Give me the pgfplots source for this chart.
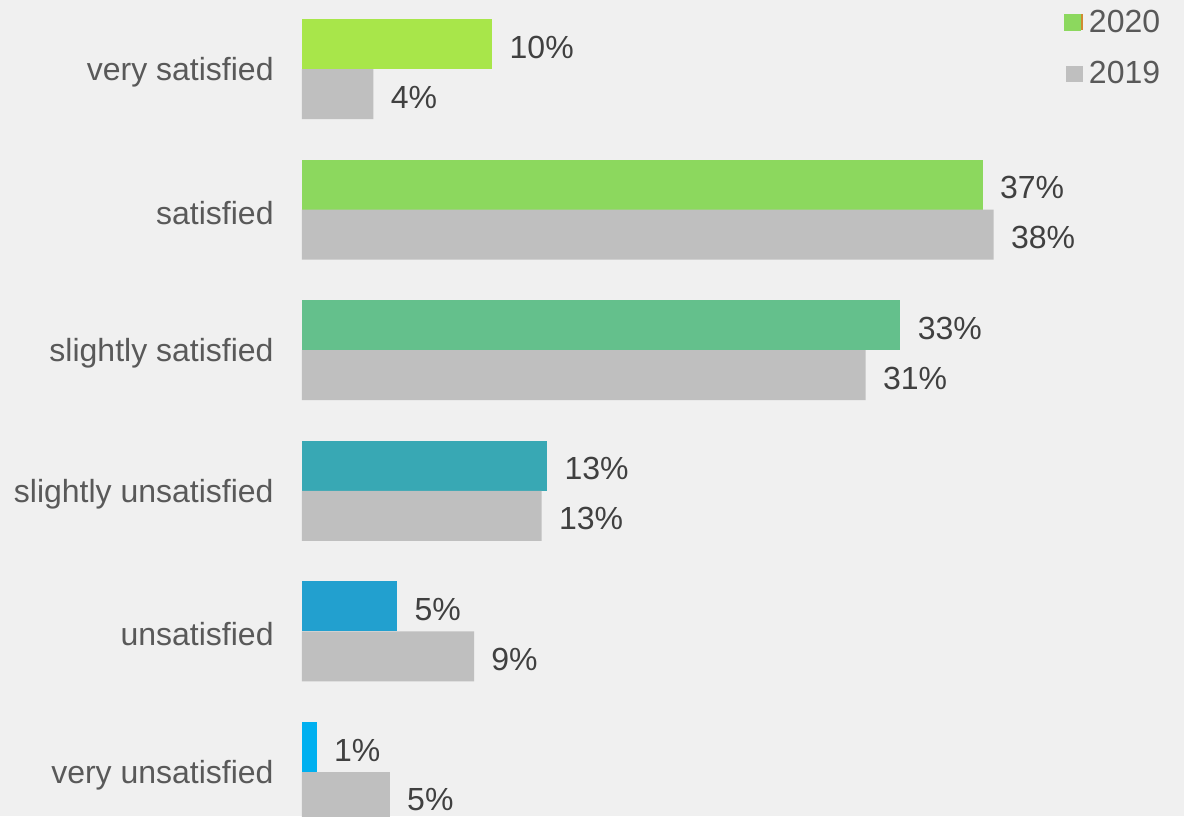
\documentclass[border=0pt]{standalone}
\usepackage{pgfplots}
\pgfplotsset{compat=1.18}
\usepackage{fontspec}
\setmainfont{Liberation Sans}
\definecolor{bg}{HTML}{F0F0F0}
\definecolor{labcol}{HTML}{595959}
\definecolor{valcol}{HTML}{404040}
\definecolor{cA}{HTML}{A8E64A}
\definecolor{cB}{HTML}{8CD85E}
\definecolor{cC}{HTML}{64C08C}
\definecolor{cD}{HTML}{38A8B4}
\definecolor{cE}{HTML}{22A0CF}
\definecolor{cF}{HTML}{00B0F0}
\definecolor{gr}{HTML}{BFBFBF}
\definecolor{legor}{HTML}{D08A30}
\begin{document}
\begin{tikzpicture}
\path[use as bounding box, fill=bg] (-151pt,0pt) rectangle (441pt,408pt);
\begin{axis}[
  at={(0pt,0pt)}, anchor=south west,
  scale only axis, width=441pt, height=408pt,
  xmin=0, xmax=48.2, ymin=-0.4908, ymax=5.3129, y dir=reverse,
  axis line style={draw=none}, xtick=\empty,
  ytick={0,1,2,3,4,5},
  yticklabels={very satisfied, satisfied, slightly satisfied, slightly unsatisfied, unsatisfied, very unsatisfied},
  major tick length=0pt,
  yticklabel style={font=\fontsize{16}{19}\selectfont, text=labcol, inner sep=0pt, xshift=-14pt, yshift=-1.5pt},
  xbar, bar width=0.3556,
  every axis plot/.append style={draw=none},
  nodes near coords, point meta=explicit symbolic,
  every node near coord/.append style={font=\fontsize{16}{19}\selectfont, text=valcol, inner sep=0pt, anchor=west, xshift=8.5pt, yshift=-1.5pt},
  legend style={at={(axis description cs:0.8639,0.988)}, anchor=north west, draw=none, fill=none, inner sep=0pt, outer sep=0pt, font=\fontsize{16}{19}\selectfont, text=labcol, row sep=13pt, nodes={inner sep=0pt, outer sep=0pt}},
  legend cell align=left,
  clip=true,
]
\addplot[fill=cA, bar shift=-0.178, forget plot] coordinates {(10.4,0) [10\%]};
\addplot[fill=cB, bar shift=-0.178, forget plot] coordinates {(37.2,1) [37\%]};
\addplot[fill=cC, bar shift=-0.178, forget plot] coordinates {(32.7,2) [33\%]};
\addplot[fill=cD, bar shift=-0.178, forget plot] coordinates {(13.4,3) [13\%]};
\addplot[fill=cE, bar shift=-0.178, forget plot] coordinates {(5.2,4) [5\%]};
\addplot[fill=cF, bar shift=-0.178, forget plot] coordinates {(0.8,5) [1\%]};
\addplot[fill=gr, bar shift=0.178, forget plot] coordinates {
  (3.9,0) [4\%]
  (37.8,1) [38\%]
  (30.8,2) [31\%]
  (13.1,3) [13\%]
  (9.4,4) [9\%]
  (4.8,5) [5\%]
};
\addlegendimage{legend image code/.code={\fill[cB] (0pt,-4.25pt) rectangle (8.5pt,4.25pt); \fill[legor] (8.5pt,-4pt) rectangle (9.5pt,4pt);}}
\addlegendentry{\hspace{3pt}2020}
\addlegendimage{legend image code/.code={\fill[gr] (1pt,-4pt) rectangle (9.5pt,4pt);}}
\addlegendentry{\hspace{3pt}2019}
\end{axis}
\end{tikzpicture}
\end{document}
